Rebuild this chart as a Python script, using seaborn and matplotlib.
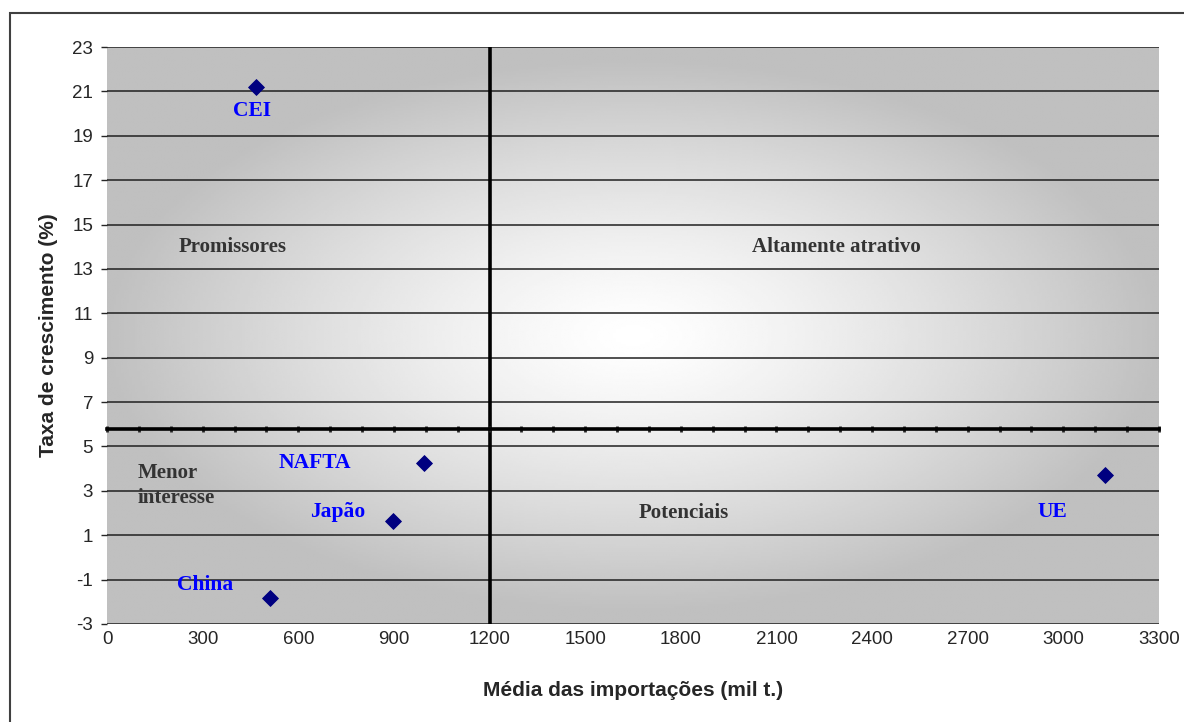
import numpy as np
import pandas as pd
import matplotlib
matplotlib.use('Agg')
import matplotlib.pyplot as plt
import matplotlib.patches as mpatches
import seaborn as sns

# data
regioes = ['CEI', 'NAFTA', 'Japão', 'China', 'UE']
importacoes = [467, 995, 897, 511, 3132]
crescimento = [21.2, 4.25, 1.64, -1.83, 3.71]

x_corte = 1200
y_corte = 5.8

x_ticks = list(range(0, 3301, 300))
y_ticks = list(range(-3, 24, 2))

# label placement (data coords)
rotulos_pos = {'CEI': (455, 20.1), 'NAFTA': (652, 4.25), 'Japão': (725, 2.05),
               'China': (307, -1.25), 'UE': (2964, 2.05)}
quadrantes = [('Promissores', 395, 14.0, 'center'),
              ('Altamente atrativo', 2287, 14.0, 'center'),
              ('Potenciais', 1810, 2.0, 'center'),
              ('Menor\ninteresse', 97, 3.25, 'left')]

df = pd.DataFrame({'regiao': regioes, 'importacoes': importacoes, 'crescimento': crescimento})

sns.set_style('white')
plt.rcParams['font.family'] = ['Liberation Sans', 'DejaVu Sans']
plt.rcParams['axes.unicode_minus'] = False

fig = plt.figure(figsize=(11.84, 7.22), dpi=100)
ax = fig.add_axes([107 / 1184, 1 - 624 / 722, 1052 / 1184, 577 / 722])

# gradient background, white in the middle, grey at the edges
gx, gy = np.meshgrid(np.linspace(-1, 1, 400), np.linspace(-1, 1, 300))
r = np.clip(np.sqrt(gx ** 2 + (gy * 1.05) ** 2), 0, 1)
shade = 1 - (1 - 0.753) * r ** 1.3
ax.imshow(shade, cmap='gray', vmin=0, vmax=1, extent=[0, 3300, -3, 23],
          aspect='auto', zorder=0, interpolation='bilinear')

sns.scatterplot(data=df, x='importacoes', y='crescimento', marker='D', s=65,
                color='#000080', edgecolor='#000080', ax=ax, zorder=5, legend=False)

ax.set_xlim(0, 3300)
ax.set_ylim(-3, 23)
ax.set_xticks(x_ticks)
ax.set_yticks(y_ticks)
for yv in y_ticks:
    ax.axhline(yv, color='#202020', lw=1.1, zorder=1)

for s in ax.spines.values():
    s.set_visible(False)

ax.tick_params(axis='x', length=0, pad=5, labelsize=13.5)
ax.tick_params(axis='y', length=4, width=1, direction='out', pad=6, labelsize=13.5, left=True)

ax.axvline(x_corte, color='black', lw=2.6, zorder=3)

# crossing axis with tick marks every 100
sec = ax.secondary_xaxis((y_corte + 3) / 26)
sec.spines['bottom'].set_linewidth(2.6)
sec.spines['bottom'].set_color('black')
sec.set_xticks(list(range(0, 3301, 100)))
sec.tick_params(axis='x', direction='inout', length=5, width=2, labelbottom=False)
sec.set_zorder(3)

ax.set_xlabel('Média das importações (mil t.)', fontsize=15, fontweight='bold', labelpad=24)
ax.set_ylabel('Taxa de crescimento (%)', fontsize=15, fontweight='bold', labelpad=10)

for nome in regioes:
    px, py = rotulos_pos[nome]
    ax.text(px, py, nome, color='#0000ff', fontsize=15.5, fontweight='bold',
            family=['Liberation Serif', 'DejaVu Serif'], ha='center', va='center', zorder=6)

for texto, px, py, alin in quadrantes:
    ax.text(px, py, texto, color='#333333', fontsize=15, fontweight='bold',
            family=['Liberation Serif', 'DejaVu Serif'], ha=alin, va='center',
            linespacing=1.3, zorder=6)

# outer chart frame
fig.patches.append(mpatches.Rectangle((10 / 1184, -0.1), 2, 1.1 - 13 / 722,
                                      transform=fig.transFigure, fill=False,
                                      edgecolor='#404040', lw=1.5))

fig.savefig('out.png', dpi=100)
